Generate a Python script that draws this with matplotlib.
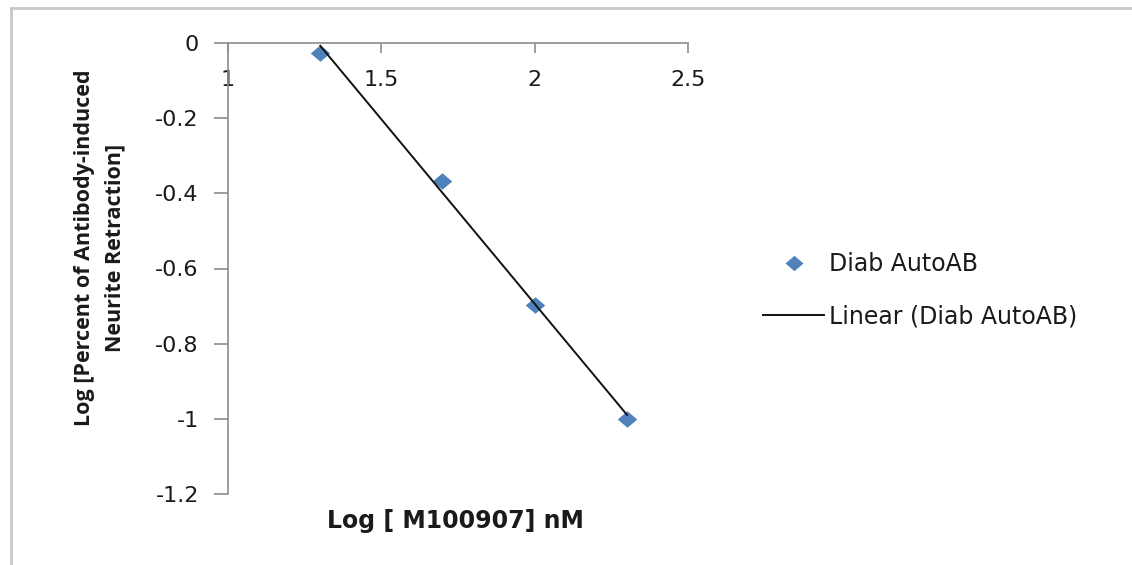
import numpy as np
import matplotlib
matplotlib.use("Agg")
import matplotlib.pyplot as plt
from matplotlib.lines import Line2D
from matplotlib.path import Path

plt.rcParams['font.family'] = ['DejaVu Sans']

# Data
log_conc = np.log10([20, 50, 100, 200])
log_retraction = [-0.026, -0.366, -0.697, -1.0]
series_label = "Diab AutoAB"
trend_label = "Linear (Diab AutoAB)"
x_ticks = [1, 1.5, 2, 2.5]
x_ticklabels = ["1", "1.5", "2", "2.5"]
y_ticks = [0, -0.2, -0.4, -0.6, -0.8, -1, -1.2]
y_ticklabels = ["0", "-0.2", "-0.4", "-0.6", "-0.8", "-1", "-1.2"]

W, H = 1132, 565
fig = plt.figure(figsize=(W / 100, H / 100), dpi=100)
ax = fig.add_axes([228 / W, 1 - 494 / H, (688 - 228) / W, (494 - 43) / H])

diamond = Path([(-1, 0), (0, 0.85), (1, 0), (0, -0.85), (-1, 0)],
               [Path.MOVETO, Path.LINETO, Path.LINETO, Path.LINETO, Path.CLOSEPOLY])

blue = '#4F81BD'
txt = '#1a1a1a'
ax.plot(log_conc, log_retraction, linestyle='none', marker=diamond,
        markersize=14, color=blue, markeredgewidth=0, label=series_label, zorder=3)

coef = np.polyfit(log_conc, log_retraction, 1)
xs = np.array([log_conc.min(), log_conc.max()])
ax.plot(xs, np.polyval(coef, xs), color='#111111', linewidth=1.4, label=trend_label, zorder=4)

ax.set_xlim(1, 2.5)
ax.set_ylim(-1.2, 0)

grey = '#8C8C8C'
for s in ['right', 'bottom']:
    ax.spines[s].set_visible(False)
ax.spines['top'].set_color(grey)
ax.spines['left'].set_color(grey)
ax.spines['top'].set_linewidth(1.2)
ax.spines['left'].set_linewidth(1.2)

ax.xaxis.set_ticks_position('top')
ax.set_xticks(x_ticks)
ax.set_xticklabels(x_ticklabels)
ax.tick_params(axis='x', direction='in', length=7, color=grey, width=1.2,
               labeltop=True, labelbottom=False, pad=-34, labelsize=16, labelcolor=txt)
ax.set_yticks(y_ticks)
ax.set_yticklabels(y_ticklabels)
ax.tick_params(axis='y', direction='out', length=10, color=grey, width=1.2,
               pad=11, labelsize=16, labelcolor=txt)

fig.text(455 / W, 1 - 521 / H, "Log [ M100907] nM", ha='center', va='center',
         fontsize=17, fontweight='bold', color=txt)
fig.text(100 / W, 1 - 248 / H, "Log [Percent of Antibody-induced\nNeurite Retraction]",
         ha='center', va='center', rotation=90, fontsize=15.5, fontweight='bold',
         color=txt, linespacing=1.6, multialignment='center', family='Open Sans')

# Legend
handles = [Line2D([], [], linestyle='none', marker=diamond, markersize=13, color=blue,
                  markeredgewidth=0),
           Line2D([], [], color='#111111', linewidth=1.4)]
fig.legend(handles, [series_label, trend_label], loc='center left',
           bbox_to_anchor=(763 / W, 1 - 290 / H), frameon=False, fontsize=17,
           handlelength=2.6, handletextpad=0.2, labelspacing=1.2, borderpad=0,
           borderaxespad=0, labelcolor=txt)

# outer frame (top and left only)
fig.add_artist(Line2D([11 / W, 11 / W], [0, 1 - 8 / H], transform=fig.transFigure,
                      color='#C8C8C8', linewidth=2))
fig.add_artist(Line2D([11 / W, 1], [1 - 8 / H, 1 - 8 / H], transform=fig.transFigure,
                      color='#C8C8C8', linewidth=2))

fig.savefig("out.png", dpi=100, facecolor='white')
